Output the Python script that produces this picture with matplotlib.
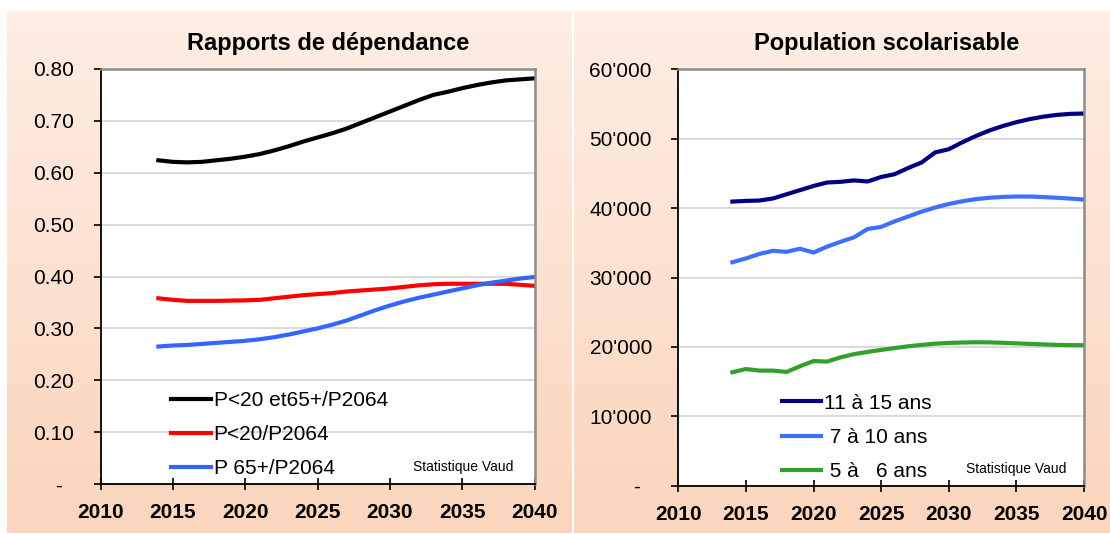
import numpy as np
import matplotlib
matplotlib.use("Agg")
import matplotlib.pyplot as plt
from matplotlib.ticker import FuncFormatter, MultipleLocator
from matplotlib.colors import LinearSegmentedColormap

plt.rcParams['font.family'] = ['Liberation Sans', 'DejaVu Sans']

years = list(range(2014, 2041))

# Left chart: dependency ratios
dep_total = [0.624, 0.621, 0.620, 0.621, 0.624, 0.627, 0.631, 0.636, 0.643, 0.651, 0.660,
             0.668, 0.676, 0.685, 0.696, 0.707, 0.718, 0.729, 0.740, 0.750, 0.756, 0.763,
             0.769, 0.774, 0.778, 0.780, 0.782]
dep_young = [0.358, 0.355, 0.353, 0.353, 0.353, 0.3535, 0.354, 0.355, 0.358, 0.361, 0.364,
             0.366, 0.368, 0.371, 0.373, 0.375, 0.377, 0.380, 0.383, 0.385, 0.386, 0.386,
             0.386, 0.386, 0.386, 0.384, 0.382]
dep_old = [0.265, 0.267, 0.268, 0.270, 0.272, 0.274, 0.276, 0.279, 0.283, 0.288, 0.294,
           0.300, 0.307, 0.315, 0.325, 0.335, 0.344, 0.352, 0.359, 0.365, 0.371, 0.377,
           0.383, 0.388, 0.392, 0.396, 0.399]
dep_labels = ["P<20 et65+/P2064", "P<20/P2064", "P 65+/P2064"]

# Right chart: school-age population
pop_11_15 = [40950, 41050, 41100, 41400, 42000, 42600, 43200, 43700, 43800, 44000, 43850,
             44500, 44900, 45800, 46600, 48050, 48500, 49500, 50400, 51200, 51850, 52400,
             52850, 53200, 53450, 53600, 53650]
pop_7_10 = [32200, 32750, 33400, 33850, 33700, 34150, 33600, 34450, 35150, 35800, 37000,
            37300, 38100, 38800, 39500, 40100, 40600, 41000, 41300, 41500, 41620, 41680,
            41680, 41600, 41500, 41380, 41240]
pop_5_6 = [16330, 16800, 16570, 16570, 16380, 17200, 17950, 17870, 18480, 18950, 19270,
           19550, 19820, 20080, 20280, 20460, 20560, 20620, 20660, 20640, 20580, 20500,
           20420, 20350, 20280, 20250, 20230]
pop_labels = ["11 à 15 ans", " 7 à 10 ans", " 5 à   6 ans"]

titles = ["Rapports de dépendance", "Population scolarisable"]
source = "Statistique Vaud"
xticks = [2010, 2015, 2020, 2025, 2030, 2035, 2040]

W, H = 1110, 534
fig = plt.figure(figsize=(W / 100, H / 100), dpi=100)
fig.patch.set_facecolor('white')


def fx(px):
    return px / W


def fy(py):
    return (H - py) / H


# gradient panels
cmap = LinearSegmentedColormap.from_list('peach', ['#FEEEE5', '#FBD5BD'])
grad = np.linspace(0, 1, 256).reshape(-1, 1)
for (x0, x1) in [(7, 571), (574, 1110)]:
    bg = fig.add_axes([fx(x0), fy(533), fx(x1 - x0), (533 - 11) / H])
    bg.imshow(grad, aspect='auto', cmap=cmap, extent=[0, 1, 0, 1])
    bg.set_axis_off()
    bg.set_zorder(-10)

FS = 15


def style_axes(ax, ymax, ystep, fmt):
    ax.set_facecolor('white')
    ax.set_xlim(2010, 2040)
    ax.set_ylim(0, ymax)
    ax.set_xticks(xticks)
    ax.yaxis.set_major_locator(MultipleLocator(ystep))
    ax.yaxis.set_major_formatter(FuncFormatter(fmt))
    ax.grid(axis='y', color='#D4D4D4', linewidth=1.2)
    ax.set_axisbelow(True)
    for s in ['top', 'right']:
        ax.spines[s].set_color('#8C8C8C')
        ax.spines[s].set_linewidth(1.8)
    for s in ['left', 'bottom']:
        ax.spines[s].set_color('black')
        ax.spines[s].set_linewidth(1.3)
    ax.tick_params(axis='x', direction='inout', length=8.5, width=1.2, labelsize=FS, pad=9.5)
    ax.tick_params(axis='y', direction='out', length=5, width=1.2, labelsize=FS, pad=14)
    for lab in ax.get_xticklabels():
        lab.set_fontweight('bold')


def fmt_left(v, pos):
    return '-  ' if abs(v) < 1e-9 else f"{v:.2f}"


def fmt_right(v, pos):
    if abs(v) < 1e-9:
        return '-  '
    return f"{int(round(v)):,}".replace(',', "'")


LW = 3.0
LEG = dict(loc='upper left', frameon=False, fontsize=FS, handlelength=1.9,
           handletextpad=0.15, labelspacing=0.73, borderaxespad=0, borderpad=0)

axL = fig.add_axes([fx(100.5), fy(484), fx(434), 415 / H])
axL.plot(years, dep_total, color='black', lw=LW, label=dep_labels[0])
axL.plot(years, dep_young, color='#FF0000', lw=LW, label=dep_labels[1])
axL.plot(years, dep_old, color='#3366FF', lw=LW, label=dep_labels[2])
style_axes(axL, 0.8, 0.1, fmt_left)
fig.text(fx(328), fy(50), titles[0], fontsize=17, fontweight='bold',
         ha='center', va='baseline')
fig.legend(handles=axL.get_lines(), bbox_to_anchor=(fx(171), fy(391)), **LEG)
fig.text(fx(463), fy(466.7), source, fontsize=10, ha='center', va='center')

axR = fig.add_axes([fx(678.3), fy(485.5), fx(405.7), 416 / H])
axR.plot(years, pop_11_15, color='#000080', lw=LW, label=pop_labels[0])
axR.plot(years, pop_7_10, color='#3F6FFF', lw=LW, label=pop_labels[1])
axR.plot(years, pop_5_6, color='#33A02C', lw=LW, label=pop_labels[2])
style_axes(axR, 60000, 10000, fmt_right)
fig.text(fx(886.5), fy(50), titles[1], fontsize=17, fontweight='bold',
         ha='center', va='baseline')
fig.legend(handles=axR.get_lines(), bbox_to_anchor=(fx(781.5), fy(393.7)), **LEG)
fig.text(fx(1016), fy(469), source, fontsize=10, ha='center', va='center')

fig.savefig('out.png', dpi=100)
